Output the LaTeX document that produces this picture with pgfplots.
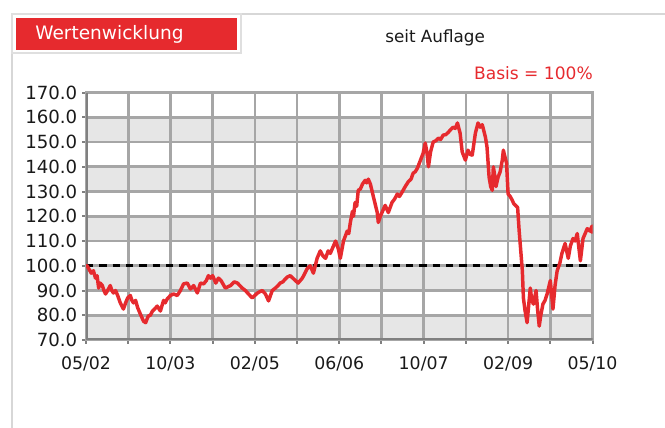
\documentclass[border=0pt]{standalone}
\usepackage{pgfplots}
\pgfplotsset{compat=1.18}
\usepackage{fontspec}
\setmainfont{DejaVu Sans}
\definecolor{dred}{RGB}{230,42,46}
\definecolor{gridgray}{RGB}{166,166,166}
\definecolor{axisgray}{RGB}{128,128,128}
\definecolor{bandgray}{RGB}{230,230,230}
\definecolor{framegray}{RGB}{215,215,215}
\begin{document}
\begin{tikzpicture}
\begin{scope}[x=0.75pt,y=0.75pt]
\useasboundingbox (0,0) rectangle (665,428);
\draw[framegray, line width=1.1pt] (12,0) -- (12,414) -- (665,414);
\draw[framegray!80, line width=1.1pt] (12,414) rectangle (241,375);
\fill[dred] (16,410.3) rectangle (237,378);
\node[anchor=base west, text=white, inner sep=0pt, font=\fontsize{13.9}{16}\selectfont] at (35,388) {Wertenwicklung};
\node[anchor=base west, text=black!90, inner sep=0pt, font=\fontsize{12.6}{15}\selectfont] at (385,385) {seit Auflage};
\node[anchor=base east, text=dred, inner sep=0pt, font=\fontsize{12.8}{15}\selectfont] at (593,348) {Basis = 100\%};
\end{scope}
\begin{axis}[
  set layers,
  at={(64.5pt,66pt)}, anchor=south west,
  scale only axis, width=379.9pt, height=185.6pt,
  xmin=0, xmax=96, ymin=70, ymax=170,
  xtick={0,8,...,96},
  xticklabels={05/02,,10/03,,02/05,,06/06,,10/07,,02/09,,05/10},
  ytick={70,80,...,170},
  grid=major,
  major grid style={draw=gridgray, line width=2pt},
  axis line style={draw=gridgray, line width=2pt},
  tick pos=left, tick align=outside, major tick length=3pt,
  tick style={draw=axisgray, line width=1.5pt},
  /pgf/number format/assume math mode=true,
  yticklabel={\pgfmathprintnumber[fixed,fixed zerofill,precision=1]{\tick}},
  yticklabel style={font=\fontsize{13.6}{15}\selectfont, text=black!90},
  xticklabel style={font=\fontsize{13}{15}\selectfont, text=black!90, yshift=-6pt},
]
\addplot[fill=bandgray, draw=none, on layer=axis background] coordinates {(0,70) (96,70) (96,80) (0,80)} --cycle;
\addplot[fill=bandgray, draw=none, on layer=axis background] coordinates {(0,90) (96,90) (96,100) (0,100)} --cycle;
\addplot[fill=bandgray, draw=none, on layer=axis background] coordinates {(0,110) (96,110) (96,120) (0,120)} --cycle;
\addplot[fill=bandgray, draw=none, on layer=axis background] coordinates {(0,130) (96,130) (96,140) (0,140)} --cycle;
\addplot[fill=bandgray, draw=none, on layer=axis background] coordinates {(0,150) (96,150) (96,160) (0,160)} --cycle;
\draw[axisgray, line width=2.3pt] (rel axis cs:0,1) -- (rel axis cs:0,0) -- (rel axis cs:1,0);
\addplot[black, line width=2.2pt, dash pattern=on 5.5pt off 4.5pt] coordinates {(0,100) (95.3,100)};
\addplot[dred, line width=2.6pt, line join=round] coordinates {
(0,100) (0.2,100) (1.0,97) (1.4,98) (1.8,95) (2.1,96) (2.4,91) (2.7,93) (3.1,92) (3.4,90) (3.7,88.6) (4.1,90) (4.6,92) (4.9,90) (5.2,89) (5.6,90) (6.0,88)
(6.5,85) (7.1,82.5) (7.5,85) (7.9,87) (8.4,88) (8.7,86) (9.0,85) (9.4,86) (9.8,83) (10.3,80.5) (10.9,77.6) (11.3,77) (11.8,79.7)
(12.2,80) (12.6,81.7) (13.0,82.5) (13.5,83.7) (14.1,81.7) (14.7,86) (15.0,85) (15.4,86.6) (16.0,88) (16.6,88.6) (17.3,88) (17.9,90) (18.5,92.7)
(19.2,93) (19.8,90.6) (20.4,92) (21.1,89) (21.7,93) (22.3,92.7) (22.8,94) (23.2,96) (23.6,95) (24.0,96) (24.6,93) (25.1,95) (25.6,94)
(26.4,91) (27.4,92) (28.1,93.5) (28.7,93) (29.6,91) (30.2,90) (30.8,88.6) (31.5,87) (32.0,88) (32.5,89) (33.4,90) (34.0,88.6) (34.6,85.8)
(35.3,90) (35.9,91) (36.4,92) (36.8,93) (37.3,93.5) (37.8,94.7) (38.2,95.5) (38.7,96) (39.2,95) (39.7,94) (40.2,93) (41.0,95) (41.5,97) (41.9,98.8) (42.5,100)
(43.1,97) (43.8,103) (44.4,106) (44.9,104) (45.4,103) (45.9,106) (46.3,105) (46.7,107) (47.3,110) (47.8,107) (48.2,103) (48.8,110)
(49.5,114) (49.8,113) (50.1,117.5) (50.5,122) (50.7,120) (51.0,125.6) (51.3,124) (51.6,130.5) (52.0,131) (52.4,133) (52.9,134.5) (53.2,133.5) (53.5,135) (53.9,133) (54.5,127.6)
(55.2,121.5) (55.4,117.5) (55.8,120) (56.2,122) (56.7,124.4) (57.3,121.5) (58.0,125.6) (58.5,127) (59.0,129) (59.4,128) (59.9,129.7) (60.5,132) (61.1,134)
(61.6,135) (62.0,137.4) (62.4,138) (62.8,139.4) (63.4,142.7) (63.9,145.5) (64.3,149.6) (64.6,146) (64.9,140) (65.3,146) (65.8,150) (66.3,150.5) (66.8,151.6) (67.2,151) (67.7,152.8)
(68.2,153) (68.7,154) (69.1,155) (69.6,156) (70.0,155.5) (70.4,157.7) (70.9,153.6) (71.3,146) (71.9,142.7) (72.4,146.7) (72.8,145) (73.2,144.7) (73.8,153.6) (74.3,157.7)
(74.7,156) (75.1,157) (75.7,152) (76.0,148) (76.4,135.8) (76.7,132) (77.0,130.5) (77.2,140) (77.5,136) (77.7,132) (78.1,135.8) (78.5,138) (78.9,142.7) (79.1,146.7)
(79.4,144) (79.7,141.5) (80.0,129) (80.4,128) (80.8,126.4) (81.1,125) (81.4,124.4) (81.8,123.6) (82.1,114) (82.4,106) (82.7,98) (82.9,87) (83.2,82) (83.6,77) (83.9,84) (84.2,91)
(84.5,86) (84.8,84.5) (85.3,90) (85.6,82) (85.9,75.6) (86.2,80) (86.6,84.5) (87.0,86) (87.4,88.6) (88.0,94) (88.5,82.5) (88.9,92) (89.3,98) (89.8,101) (90.2,105) (90.8,109)
(91.1,106) (91.4,103) (91.8,108) (92.3,111) (92.7,110) (93.1,113) (93.7,102) (94.2,111) (94.6,113) (95.0,115) (95.5,114) (95.9,116) (96.0,113)
};
\end{axis}
\end{tikzpicture}
\end{document}
